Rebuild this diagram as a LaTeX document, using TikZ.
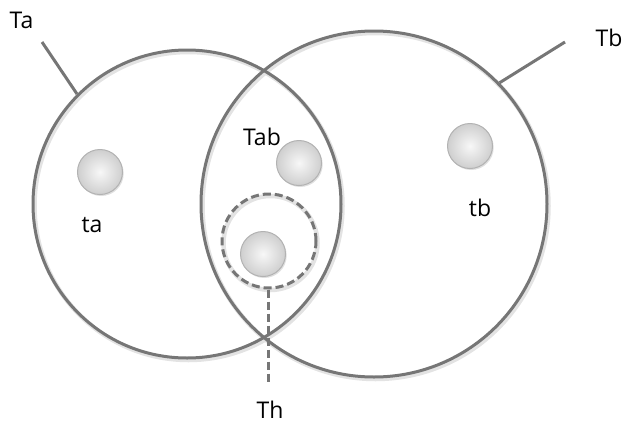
\documentclass[tikz,border=0pt]{standalone}
\usepackage{fontspec}
\setmainfont{Open Sans}
\usetikzlibrary{shadows}
\definecolor{strk}{HTML}{767676}
\begin{document}
\begin{tikzpicture}[x=1pt,y=-1pt,
  bigset/.style={circle, draw=strk, line width=3pt, inner sep=0pt},
  shade/.style={circle, draw=gray!22, line width=4.5pt, inner sep=0pt},
  ball/.style={circle, inner sep=0pt, minimum size=45pt, draw=gray!60, line width=1pt,
     inner color=gray!6, outer color=gray!38,
     drop shadow={opacity=0.25, shadow xshift=1.2pt, shadow yshift=-1.5pt}},
  lbl/.style={anchor=base, font=\fontsize{23}{28}\selectfont, inner sep=0pt},
  conn/.style={draw=strk, line width=3pt},
  dconn/.style={draw=strk, line width=3pt, dash pattern=on 8pt off 4pt}]
\useasboundingbox (0,0) rectangle (627,429);
% soft shadows of big circles
\node[shade, minimum size=308pt] at (188.5,206) {};
\node[shade, minimum size=346pt] at (375.5,206) {};
\node[shade, minimum size=94pt] at (270.5,243) {};
% sets
\node[bigset, minimum size=308pt] (A) at (187,204) {};
\node[bigset, minimum size=346pt] (B) at (374,204) {};
\node[circle, draw=strk, line width=3pt, dash pattern=on 8pt off 4pt, inner sep=0pt, minimum size=94pt] (H) at (269,241) {};
% balls
\node[ball] (ba) at (100,172) {};
\node[ball] (bab) at (299,163) {};
\node[ball] (bb) at (470,146) {};
\node[ball] (bh) at (263,254) {};
% labels
\node[lbl] (Ta) at (21.5,28) {Ta};
\node[lbl] (Tb) at (609,46) {Tb};
\node[lbl] (Tab) at (262,145) {Tab};
\node[lbl] (ta) at (92,232) {ta};
\node[lbl] (tb) at (480,216) {tb};
\node[lbl] (Th) at (270,418) {Th};
% connectors
\coordinate (taend) at (42,42);
\coordinate (tbend) at (565,42);
\coordinate (thend) at (268,382);
\draw[conn] (A.135) -- (taend);
\draw[conn] (B.44.5) -- (tbend);
\draw[dconn] (H.south -| thend) -- (thend);
\end{tikzpicture}
\end{document}
